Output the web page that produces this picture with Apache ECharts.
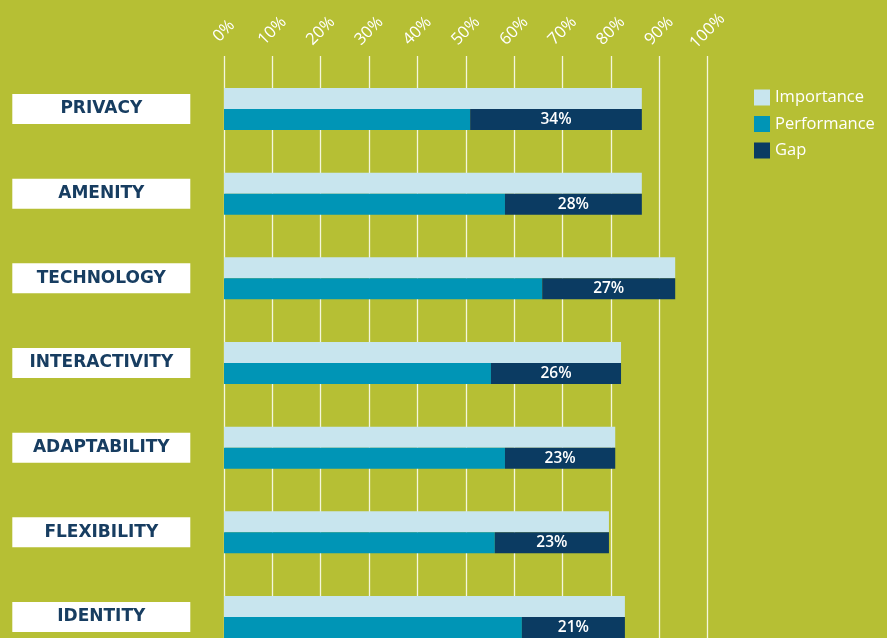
<!DOCTYPE html>
<html>
<head>
<meta charset="utf-8">
<script src="https://cdn.jsdelivr.net/npm/echarts@6/dist/echarts.min.js"></script>
<style>
html,body{margin:0;padding:0;background:#b6bf34;}
#chart{width:887px;height:638px;}
</style>
</head>
<body>
<div id="chart"></div>
<script>
const categories = ['PRIVACY','AMENITY','TECHNOLOGY','INTERACTIVITY','ADAPTABILITY','FLEXIBILITY','IDENTITY'];
const importance = [86.4, 86.4, 93.3, 82.1, 80.9, 79.6, 82.9];
const performance = [50.9, 58.1, 65.8, 55.2, 58.1, 56.0, 61.6];
const gap = [35.5, 28.3, 27.5, 26.9, 22.8, 23.6, 21.3];
const gapLabels = [34, 28, 27, 26, 23, 23, 21];
const tickValues = [0,10,20,30,40,50,60,70,80,90,100];

const FONT = "'Open Sans', 'Noto Sans', sans-serif";
const chart = echarts.init(document.getElementById('chart'));
chart.setOption({
  backgroundColor: '#b6bf34',
  animation: false,
  legend: {
    orient: 'vertical',
    left: 749, top: 84,
    itemWidth: 16, itemHeight: 16, itemGap: 9.5,
    icon: 'rect',
    textStyle: {color: '#fff', fontSize: 16.5, fontFamily: FONT, fontWeight: 500},
    data: ['Importance','Performance','Gap']
  },
  grid: [
    {left: 224, right: 179.4, top: 56, bottom: 0, outerBoundsMode: 'none'},
    {left: 224, right: 179.4, top: 66.7, height: 592.6, outerBoundsMode: 'none'}
  ],
  xAxis: [
    {type: 'value', gridIndex: 0, position: 'top', min: 0, max: 100, interval: 10,
     axisLine: {show: false}, axisTick: {show: false},
     splitLine: {show: true, lineStyle: {color: '#f4f6dc', width: 1.3}},
     axisLabel: {color: '#fff', fontSize: 16.5, fontFamily: FONT, fontWeight: 500, rotate: 45, margin: 25,
       align: 'center', verticalAlign: 'middle',
       formatter: v => tickValues.includes(v) ? v + '%' : ''}},
    {type: 'value', gridIndex: 1, min: 0, max: 100, show: false}
  ],
  yAxis: [
    {type: 'value', gridIndex: 0, show: false},
    {type: 'category', gridIndex: 1, inverse: true, data: categories,
     axisLine: {show: false}, axisTick: {show: false}, splitLine: {show: false},
     axisLabel: {margin: 122.7, align: 'center', verticalAlign: 'middle',
       width: 178, height: 30, lineHeight: 30, backgroundColor: '#fff',
       color: '#173d61', fontSize: 17, fontWeight: 'bold', fontFamily: "'DejaVu Sans', sans-serif"}}
  ],
  series: [
    {name: 'Importance', type: 'bar', xAxisIndex: 1, yAxisIndex: 1, data: importance,
     barWidth: 21, barGap: '0%', itemStyle: {color: '#c8e5ee'}},
    {name: 'Performance', type: 'bar', xAxisIndex: 1, yAxisIndex: 1, stack: 'p', data: performance,
     barWidth: 21, barGap: '0%', itemStyle: {color: '#0095b6'}},
    {name: 'Gap', type: 'bar', xAxisIndex: 1, yAxisIndex: 1, stack: 'p', data: gap,
     barWidth: 21, barGap: '0%', itemStyle: {color: '#0b3b62'},
     label: {show: true, position: 'inside', color: '#fff', fontSize: 15.5, fontWeight: 600, fontFamily: FONT,
       formatter: p => gapLabels[p.dataIndex] + '%'}}
  ]
});
</script>
</body>
</html>
